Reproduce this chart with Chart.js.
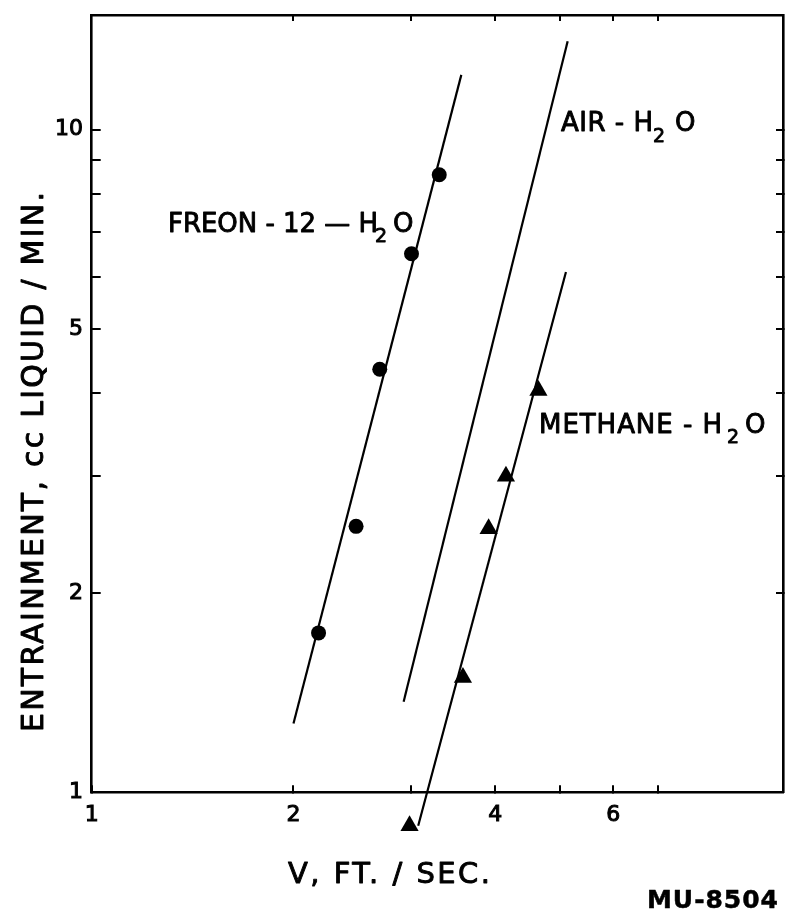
<!DOCTYPE html>
<html><head><meta charset="utf-8">
<script src="https://cdn.jsdelivr.net/npm/chart.js@4"></script>
<style>html,body{margin:0;padding:0;background:#fff;} #wrap{position:relative;width:785px;height:917px;}</style>
</head><body><div id="wrap"><canvas id="c"></canvas></div>
<script>
// ---- data (V ft/sec, entrainment cc/min) ----
const freonV = [2.18, 2.48, 2.69, 3.00, 3.30];
const freonE = [1.74, 2.52, 4.35, 6.50, 8.55];
const methaneV = [2.98, 3.58, 3.91, 4.15, 4.64];
const methaneE = [0.89, 1.49, 2.50, 3.00, 4.04];
const freonLineV = [2.00, 3.56];
const freonLineE = [1.27, 12.1];
const airLineV = [2.92, 5.13];
const airLineE = [1.37, 13.6];
const methaneLineV = [3.07, 5.10];
const methaneLineE = [0.89, 6.10];
const xTicks = [1, 2, 3, 4, 5, 6, 7];
const xTickLabels = [1, 2, 4, 6];
const xTopTicks = [2, 3, 4, 5, 6, 7];
const yTicks = [1, 2, 3, 4, 5, 6, 7, 8, 9, 10];
const yTickLabels = [1, 2, 5, 10];
const yRightTicks = [2, 3, 4, 5, 6, 7, 8, 9, 10];
const xRange = [1, 10.75];
const yRange = [1, 14.9];

const zip = (xs, ys) => xs.map((x, i) => ({x: x, y: ys[i]}));
const FONT = 'DejaVu Sans';

function spaced(ctx, text, x0, base, x1, font) {
  ctx.font = font;
  ctx.letterSpacing = '0px';
  const w = ctx.measureText(text).width;
  const n = text.length;
  const s = n > 1 ? (x1 - x0 - w) / (n - 1) : 0;
  ctx.letterSpacing = s + 'px';
  ctx.fillText(text, x0, base);
  ctx.strokeText(text, x0, base);
  ctx.letterSpacing = '0px';
}

// points that lie outside the plotting frame (below y = 1) are still drawn, as in the original
const outsidePoints = {
  id: 'outsidePoints',
  afterDatasetsDraw(chart) {
    const a = chart.chartArea;
    const full = {left: 0, top: 0, right: chart.width, bottom: chart.height};
    chart.data.datasets.forEach((ds, i) => {
      if (ds.clip !== false || ds.showLine) return;
      const meta = chart.getDatasetMeta(i);
      meta.data.forEach(el => {
        if (el.y > a.bottom || el.y < a.top || el.x < a.left || el.x > a.right) {
          el.draw(chart.ctx, full);
        }
      });
    });
  }
};

const annot = {
  id: 'annot',
  afterDraw(chart) {
    const ctx = chart.ctx;
    ctx.save();
    ctx.fillStyle = '#000';
    ctx.strokeStyle = '#000';
    ctx.lineWidth = 0.9;
    ctx.lineJoin = 'round';
    ctx.textAlign = 'left';
    ctx.textBaseline = 'alphabetic';
    // curve labels
    spaced(ctx, 'FREON - 12 \u2014 H', 168, 232, 378, `26px "${FONT}"`);
    spaced(ctx, '2', 375, 242, 388, `19px "${FONT}"`);
    spaced(ctx, 'O', 393, 232, 411, `26px "${FONT}"`);
    spaced(ctx, 'AIR - H', 561, 131, 653, `26px "${FONT}"`);
    spaced(ctx, '2', 653, 142, 667, `19px "${FONT}"`);
    spaced(ctx, 'O', 675, 131, 693, `26px "${FONT}"`);
    spaced(ctx, 'METHANE - H', 539, 433, 722, `26px "${FONT}"`);
    spaced(ctx, '2', 727, 443, 739, `19px "${FONT}"`);
    spaced(ctx, 'O', 745, 433, 763, `26px "${FONT}"`);
    // axis titles
    spaced(ctx, 'V, FT. / SEC.', 288, 883, 490, `29px "${FONT}"`);
    ctx.save();
    ctx.translate(43, 732);
    ctx.rotate(-Math.PI / 2);
    spaced(ctx, 'ENTRAINMENT, cc LIQUID / MIN.', 0, 0, 540, `30px "${FONT}"`);
    ctx.restore();
    ctx.lineWidth = 0.5;
    spaced(ctx, 'MU-8504', 647, 908, 778, `bold 25px "${FONT}"`);
    ctx.restore();
  }
};

const tickFont = {family: FONT, size: 22};
const border = {display: true, color: '#000', width: 2.6};
function setTicks(list) { return s => { s.ticks = list.map(v => ({value: v})); }; }
function fitTo(prop, size) {
  return s => {
    s[prop] = size;
    s.paddingTop = 0; s.paddingBottom = 0; s.paddingLeft = 0; s.paddingRight = 0;
  };
}

new Chart(document.getElementById('c'), {
  type: 'scatter',
  data: {
    datasets: [
      {label: 'Freon-12 - H2O', data: zip(freonV, freonE), pointStyle: 'circle', pointRadius: 7.5,
       backgroundColor: '#000', borderColor: '#000', borderWidth: 0, showLine: false},
      {label: 'Methane - H2O', data: zip(methaneV, methaneE), pointStyle: 'triangle', pointRadius: 10.5,
       backgroundColor: '#000', borderColor: '#000', borderWidth: 0, showLine: false, clip: false},
      {label: 'Freon fit', data: zip(freonLineV, freonLineE), showLine: true, pointRadius: 0,
       borderColor: '#000', borderWidth: 2.2},
      {label: 'Air fit', data: zip(airLineV, airLineE), showLine: true, pointRadius: 0,
       borderColor: '#000', borderWidth: 2.2},
      {label: 'Methane fit', data: zip(methaneLineV, methaneLineE), showLine: true, pointRadius: 0,
       borderColor: '#000', borderWidth: 2.2, clip: false}
    ]
  },
  options: {
    responsive: true,
    maintainAspectRatio: false,
    animation: false,
    events: [],
    layout: {padding: 0, autoPadding: false},
    plugins: {legend: {display: false}, tooltip: {enabled: false}, title: {display: false}},
    scales: {
      x: {
        type: 'logarithmic', position: 'bottom', min: xRange[0], max: xRange[1],
        afterBuildTicks: setTicks(xTicks),
        afterFit: fitTo('height', 124.7),
        border: border,
        grid: {drawOnChartArea: false, color: '#000', lineWidth: 2, tickLength: -7},
        ticks: {autoSkip: false, maxRotation: 0, padding: 17, color: '#000', font: tickFont,
                textStrokeColor: '#000', textStrokeWidth: 1,
                callback: v => xTickLabels.includes(v) ? String(v) : ''}
      },
      x2: {
        type: 'logarithmic', position: 'top', min: xRange[0], max: xRange[1],
        afterBuildTicks: setTicks(xTopTicks),
        afterFit: fitTo('height', 15),
        border: border,
        grid: {drawOnChartArea: false, color: '#000', lineWidth: 2, tickLength: -6},
        ticks: {autoSkip: false, maxRotation: 0, color: '#000', callback: () => ''}
      },
      y: {
        type: 'logarithmic', position: 'left', min: yRange[0], max: yRange[1],
        afterBuildTicks: setTicks(yTicks),
        afterFit: fitTo('width', 91.7),
        border: border,
        grid: {drawOnChartArea: false, color: '#000', lineWidth: 2, tickLength: -9},
        ticks: {autoSkip: false, padding: 17.7, color: '#000', font: tickFont,
                textStrokeColor: '#000', textStrokeWidth: 1,
                callback: v => yTickLabels.includes(v) ? String(v) : ''}
      },
      y2: {
        type: 'logarithmic', position: 'right', min: yRange[0], max: yRange[1],
        afterBuildTicks: setTicks(yRightTicks),
        afterFit: fitTo('width', 2),
        border: border,
        grid: {drawOnChartArea: false, color: '#000', lineWidth: 2, tickLength: -7},
        ticks: {autoSkip: false, color: '#000', callback: () => ''}
      }
    }
  },
  plugins: [outsidePoints, annot]
});
</script>
</body></html>
